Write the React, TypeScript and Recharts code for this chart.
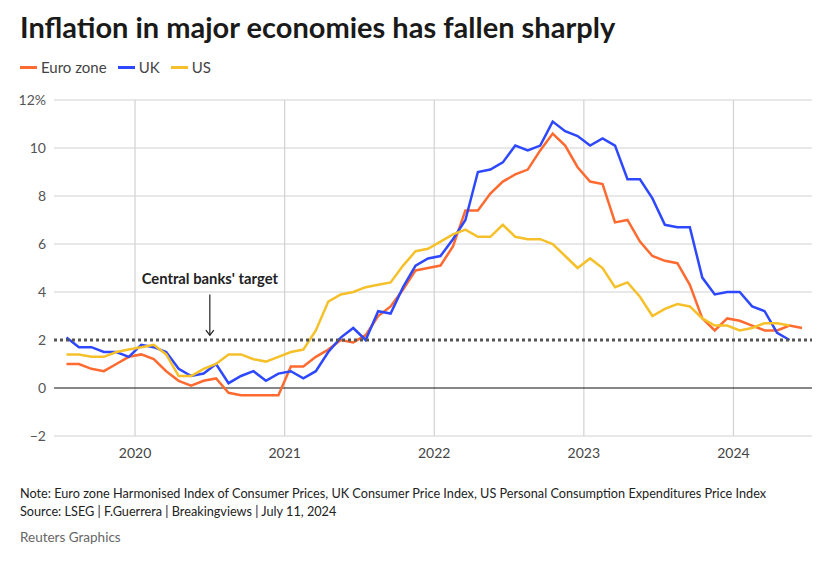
import { LineChart, Line, XAxis, YAxis, CartesianGrid, ReferenceLine } from 'recharts'

const FONT = '"Source Sans Pro", Lato, "Noto Sans", sans-serif'

// monthly, Jul 2019 .. Jun 2024 (month index counted from Jan 2020)
const startMonth = -6
const euroZone = [
  1.0, 1.0, 0.8, 0.7, 1.0, 1.3,
  1.4, 1.2, 0.7, 0.3, 0.1, 0.3, 0.4, -0.2, -0.3, -0.3, -0.3, -0.3,
  0.9, 0.9, 1.3, 1.6, 2.0, 1.9, 2.2, 3.0, 3.4, 4.1, 4.9, 5.0,
  5.1, 5.9, 7.4, 7.4, 8.1, 8.6, 8.9, 9.1, 9.9, 10.6, 10.1, 9.2,
  8.6, 8.5, 6.9, 7.0, 6.1, 5.5, 5.3, 5.2, 4.3, 2.9, 2.4, 2.9,
  2.8, 2.6, 2.4, 2.4, 2.6, 2.5,
]
const uk = [
  2.1, 1.7, 1.7, 1.5, 1.5, 1.3,
  1.8, 1.7, 1.5, 0.8, 0.5, 0.6, 1.0, 0.2, 0.5, 0.7, 0.3, 0.6,
  0.7, 0.4, 0.7, 1.5, 2.1, 2.5, 2.0, 3.2, 3.1, 4.2, 5.1, 5.4,
  5.5, 6.2, 7.0, 9.0, 9.1, 9.4, 10.1, 9.9, 10.1, 11.1, 10.7, 10.5,
  10.1, 10.4, 10.1, 8.7, 8.7, 7.9, 6.8, 6.7, 6.7, 4.6, 3.9, 4.0,
  4.0, 3.4, 3.2, 2.3, 2.0,
]
const us = [
  1.4, 1.4, 1.3, 1.3, 1.5, 1.6,
  1.7, 1.8, 1.4, 0.5, 0.5, 0.8, 1.0, 1.4, 1.4, 1.2, 1.1, 1.3,
  1.5, 1.6, 2.4, 3.6, 3.9, 4.0, 4.2, 4.3, 4.4, 5.1, 5.7, 5.8,
  6.1, 6.4, 6.6, 6.3, 6.3, 6.8, 6.3, 6.2, 6.2, 6.0, 5.5, 5.0,
  5.4, 5.0, 4.2, 4.4, 3.8, 3.0, 3.3, 3.5, 3.4, 2.9, 2.6, 2.6,
  2.4, 2.5, 2.7, 2.7, 2.6,
]

const yearTicks = [0, 12, 24, 36, 48]
const yTicks = [-2, 0, 2, 4, 6, 8, 10, 12]
const target = 2

const series = [
  { key: 'euro', name: 'Euro zone', color: '#ff6a30' },
  { key: 'uk', name: 'UK', color: '#2e48ff' },
  { key: 'us', name: 'US', color: '#f5c02a' },
]

const data = euroZone.map((v, i) => ({
  t: startMonth + i + 0.5,
  euro: v,
  uk: uk[i] ?? null,
  us: us[i] ?? null,
}))

function Arrow(props: any) {
  const { x1, y1, x2, y2 } = props
  return (
    <g>
      <line x1={x1} y1={y1} x2={x2} y2={y2} stroke="#222" strokeWidth={1.2} />
      <path
        d={`M${x2 - 4},${y2 - 5} L${x2},${y2} L${x2 + 4},${y2 - 5}`}
        fill="none"
        stroke="#222"
        strokeWidth={1.2}
      />
    </g>
  )
}

export default function App() {
  return (
    <div
      style={{
        position: 'absolute',
        left: 0,
        top: 0,
        width: 834,
        height: 562,
        background: '#fff',
        fontFamily: FONT,
        color: '#222',
      }}
    >
      <div
        style={{
          position: 'absolute',
          left: 20,
          top: 11,
          fontSize: 29,
          lineHeight: '31px',
          fontWeight: 700,
          color: '#1a1a1a',
          whiteSpace: 'nowrap',
        }}
      >
        Inflation in major economies has fallen sharply
      </div>

      <div
        style={{
          position: 'absolute',
          left: 20,
          top: 58,
          display: 'flex',
          gap: 11,
          fontSize: 15,
          lineHeight: '18px',
          color: '#444',
        }}
      >
        {series.map((s) => (
          <div key={s.key} style={{ display: 'flex', alignItems: 'center', gap: 4 }}>
            <span style={{ width: 17, height: 3, background: s.color, display: 'inline-block' }} />
            <span>{s.name}</span>
          </div>
        ))}
      </div>

      <div style={{ position: 'absolute', left: 0, top: 0 }}>
        <LineChart width={834} height={470} data={data} margin={{ top: 100, right: 22, bottom: 4, left: 0 }}>
          <CartesianGrid
            stroke="#d2d2d2"
            strokeWidth={1.2}
            horizontalValues={[-2, 4, 6, 8, 10, 12]}
            verticalValues={yearTicks}
          />
          <XAxis
            type="number"
            dataKey="t"
            domain={[-6.5, 54.3]}
            allowDataOverflow
            ticks={yearTicks}
            tickFormatter={(t: number) => String(2020 + t / 12)}
            tick={{ fontSize: 14, fill: '#444', fontFamily: FONT }}
            tickLine={false}
            axisLine={false}
            tickMargin={6}
            height={30}
          />
          <YAxis
            type="number"
            domain={[-2, 12]}
            ticks={yTicks}
            tickFormatter={(v: number) => (v === 12 ? '12%' : v < 0 ? `\u2212${-v}` : String(v))}
            tick={{ fontSize: 14, fill: '#555', fontFamily: FONT }}
            tickLine={false}
            axisLine={false}
            width={54}
          />
          <ReferenceLine y={0} stroke="#111" strokeWidth={1.2} />
          {series.map((s) => (
            <Line
              key={s.key}
              type="linear"
              dataKey={s.key}
              name={s.name}
              stroke={s.color}
              strokeWidth={2.5}
              dot={false}
              connectNulls={false}
              isAnimationActive={false}
            />
          ))}
          <ReferenceLine y={target} stroke="#555" strokeWidth={3} strokeDasharray="3 3" />
          <ReferenceLine
            segment={[
              { x: 6, y: 3.9 },
              { x: 6, y: 2.2 },
            ]}
            shape={Arrow}
            label={{
              value: "Central banks' target",
              position: 'top',
              offset: 10,
              fill: '#222',
              fontSize: 14.8,
              fontWeight: 700,
              fontFamily: FONT,
            }}
          />
        </LineChart>
      </div>

      <div
        style={{
          position: 'absolute',
          left: 20,
          top: 484,
          fontSize: 12.7,
          lineHeight: '18px',
          color: '#222',
          whiteSpace: 'nowrap',
        }}
      >
        <div>
          Note: Euro zone Harmonised Index of Consumer Prices, UK Consumer Price Index, US Personal Consumption
          Expenditures Price Index
        </div>
        <div>Source: LSEG | F.Guerrera | Breakingviews | July 11, 2024</div>
      </div>
      <div
        style={{
          position: 'absolute',
          left: 20,
          top: 528,
          fontSize: 13.5,
          lineHeight: '18px',
          color: '#666',
        }}
      >
        Reuters Graphics
      </div>
    </div>
  )
}
